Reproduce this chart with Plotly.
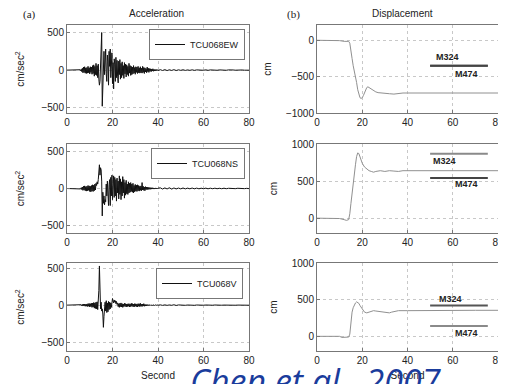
import numpy as np
import plotly.graph_objects as go

# ---------------- data ----------------
acc_t_start = 5.0   # dense samples every 0.25 s from 5 to 40 s
acc_ew = [0, 2, -3, 5, -8, 12, -20, 25,
          -35, 40, -30, 45, -40, 30, -45, 35,
          -40, 50, -35, 30, -50, 45, -30, 40,
          -55, 60, -45, 70, -80, 50, -60, 90,
          -70, 60, -100, 80, -120, -200, -150, 60,
          150, 500, -480, -100, 150, 250, -60, 180,
          280, -50, -150, 200, 120, -200, 250, 50,
          280, -100, 150, 230, -180, 100, -250, 150,
          80, -150, 170, -100, 130, -80, -170, 120,
          -60, 140, -120, 90, -100, 110, -70, 60,
          -110, 100, -50, 80, -90, 70, -60, 50,
          -80, 90, -40, 60, -70, 50, -60, 40,
          -50, 60, -40, 35, -55, 45, -30, 40,
          -45, 50, -35, 30, -40, 45, -35, 25,
          -40, 50, -30, 35, -45, 30, -25, 20,
          -35, 40, -20, 25, -30, 20, -15, 18,
          -20, 15, -12, 18, -15, 10, -12, 8,
          -10, 8, -8, 6, -5]
acc_ns = [0, 2, -3, 4, -6, 10, -15, 20,
          -25, 30, -20, 35, -30, 25, -35, 30,
          -30, 40, -25, 35, -40, 30, -45, 40,
          -35, 50, -40, 45, -30, 60, -20, 70,
          40, 90, 60, 120, 200, 320, 180, 280,
          250, 100, -370, -50, -200, -100, -220, -150,
          -180, 60, -100, 100, -160, -230, 50, 120,
          -230, 150, -100, 180, -150, 80, 170, -120,
          150, -100, 120, -170, 140, -60, 100, -140,
          170, -80, 130, -150, 90, -100, 160, -60,
          120, -130, 80, -90, 110, -70, 60, -80,
          90, -60, 70, -50, 80, -40, 60, -50,
          70, -60, 40, -45, 55, -35, 45, -40,
          50, -30, 40, -35, 30, -25, 35, -30,
          80, -20, 30, -25, 20, -30, 25, -15,
          20, -15, 18, -12, 15, -10, 12, -10,
          10, -8, 10, -6, 8, -8, 6, -5,
          8, -6, 5, -5, 4]
acc_v = [0, 1, -2, 3, -4, 6, -8, 10,
         -12, 15, -10, 14, -15, 12, -14, 16,
         -18, 20, -15, 22, -25, 20, -18, 25,
         -30, 28, -25, 35, -40, 30, -45, 40,
         -50, 45, -60, 80, 200, 530, 150, -50,
         40, -80, -50, -120, -300, -150, -60, 40,
         -80, 60, -100, 30, -90, 50, -60, 40,
         -50, 30, -30, 40, 90, 60, 30, 70,
         40, 60, 20, 50, 10, 30, -20, 20,
         -30, 25, -20, 30, -25, 20, -30, 15,
         -20, 25, -15, 20, -25, 15, -20, 18,
         -15, 20, -25, 15, -20, 25, -15, 20,
         -20, 15, -25, 20, -15, 18, -20, 15,
         -25, 20, -15, 18, -20, 25, -15, 12,
         -18, 15, -12, 20, -15, 10, -12, 8,
         -10, 8, -6, 5, -8, 6, -5, 4,
         -4, 3, -5, 4, -3, 3, -4, 3,
         -3, 2, -2, 2, -1]
# sparse tail, one sample per second from 41 to 80 s
tail_ew = [6, -5, 7, -6, 5, -4, 6, -5, 4, -3, 5, -4, 3, -3, 4, -3, 3, -2, 3, -2,
           4, -3, 3, -2, 2, -2, 3, -2, 2, -2, 3, -2, 2, -1, 2, -2, 2, -1, 2, -1]
tail_ns = [9, -7, 8, -6, 10, -8, 7, -6, 6, -5, 7, -5, 5, -4, 6, -4, 5, -4, 4, -3,
           5, -4, 4, -3, 4, -3, 3, -3, 4, -3, 3, -2, 3, -2, 3, -2, 2, -2, 2, -2]
tail_v = [4, -3, 4, -3, 3, -2, 5, -4, 3, -2, 3, -2, 2, -2, 3, -2, 2, -2, 2, -1,
          2, -2, 2, -1, 2, -1, 2, -1, 1, -1, 2, -1, 1, -1, 1, -1, 1, -1, 1, -1]

disp_ew_t = [0, 5, 10, 12, 13, 14, 14.5, 15, 15.5, 16, 16.5, 17, 17.5, 18, 18.5, 19, 19.5,
             20, 20.5, 21, 21.5, 22, 22.5, 23, 24, 25, 26, 27, 28, 30, 32, 34, 36, 38, 40,
             50, 60, 70, 80]
disp_ew = [0, 0, -5, -15, -20, -15, -40, -120, -250, -350, -420, -500, -580, -680, -760, -790,
           -800, -790, -760, -720, -680, -650, -640, -650, -680, -700, -710, -720, -725, -725,
           -735, -740, -730, -725, -725, -725, -725, -725, -725]
disp_ns_t = [0, 5, 10, 12, 13, 14, 14.5, 15, 15.5, 16, 16.5, 17, 17.5, 18, 18.5, 19, 19.5, 20,
             21, 22, 23, 24, 25, 26, 28, 30, 32, 34, 36, 38, 40, 50, 60, 70, 80]
disp_ns = [0, 0, -5, -20, -30, -20, 60, 200, 350, 480, 600, 720, 830, 880, 870, 830, 780, 740,
           690, 660, 640, 630, 620, 630, 640, 630, 640, 635, 630, 640, 640, 640, 645, 640, 640]
disp_v_t = [0, 5, 10, 11, 12, 13, 14, 14.5, 15, 15.5, 16, 16.5, 17, 17.5, 18, 18.5, 19,
            20, 21, 22, 23, 24, 25, 26, 27, 28, 29, 30, 31, 32, 33, 34, 35, 36,
            40, 50, 60, 70, 80]
disp_v = [0, 0, 0, -15, -15, -12, -10, 30, 200, 330, 390, 430, 455, 470, 465, 450, 420,
          370, 330, 320, 330, 345, 350, 345, 340, 345, 335, 325, 320, 320, 330, 340, 345, 350,
          350, 355, 355, 355, 355]

station_names = ["TCU068EW", "TCU068NS", "TCU068V"]
ref_x = [50, 75.5]
m324_y = [-350, 870, 420]
m474_y = [-350, 540, 140]
x_ticks = [0, 20, 40, 60, 80]
acc_ticks = [-500, 0, 500]
disp_ticks = [[-1000, -500, 0], [0, 500, 1000], [0, 500, 1000]]

# ---------------- build ----------------
dense_t = list(acc_t_start + 0.25 * np.arange(len(acc_ew)))
tail_t = list(np.arange(41, 81, 1.0))
acc_series = [acc_ew, acc_ns, acc_v]
tails = [tail_ew, tail_ns, tail_v]
disp_series = [(disp_ew_t, disp_ew), (disp_ns_t, disp_ns), (disp_v_t, disp_v)]

FONT = "Liberation Sans, Arial, sans-serif"
fig = go.Figure()

OFF = 8                 # the page body margin shifts the figure by 8 px
W, H = 506 - OFF, 384 - OFF


def px(v):
    return (v - OFF) / W


def py(v):
    return 1 - (v - OFF) / H


xl = [px(67), px(249)]
xr = [px(317), px(498)]
rows_px = [(25, 113), (144, 233), (263, 351)]
ydoms = [[py(b), py(t)] for t, b in rows_px]
acc_ranges = [[-570, 600], [-600, 600], [-620, 570]]
disp_ranges = [[-1000, 210], [-200, 1000], [-200, 1000]]
legend_pos = [(px(245), py(29)), (px(245), py(148)), (px(243), py(268))]

axis_common = dict(showline=True, linecolor="#777", linewidth=1, mirror=True,
                   showgrid=True, gridcolor="#c8c8c8", griddash="dot", gridwidth=1,
                   zeroline=False, ticks="inside", ticklen=3, tickcolor="#777",
                   tickfont=dict(family=FONT, size=10, color="#222"))

for i in range(3):
    ax_l = 2 * i + 1
    ax_r = 2 * i + 2
    xa_l = "x" if ax_l == 1 else f"x{ax_l}"
    ya_l = "y" if ax_l == 1 else f"y{ax_l}"
    xa_r, ya_r = f"x{ax_r}", f"y{ax_r}"
    lg = "legend" if i == 0 else f"legend{i + 1}"

    t_all = [0.0] + dense_t + tail_t
    v_all = [0] + acc_series[i] + tails[i]
    fig.add_trace(go.Scatter(x=t_all, y=v_all, mode="lines", name=station_names[i],
                             line=dict(color="#111", width=1), xaxis=xa_l, yaxis=ya_l,
                             legend=lg, showlegend=True))
    dt, dv = disp_series[i]
    fig.add_trace(go.Scatter(x=dt, y=dv, mode="lines", line=dict(color="#909090", width=1),
                             xaxis=xa_r, yaxis=ya_r, showlegend=False))
    c324 = "#555" if i != 1 else "#8a8a8a"
    c474 = "#8a8a8a" if i == 2 else "#444"
    fig.add_trace(go.Scatter(x=ref_x, y=[m324_y[i]] * 2, mode="lines",
                             line=dict(color=c324, width=2), xaxis=xa_r, yaxis=ya_r,
                             showlegend=False))
    fig.add_trace(go.Scatter(x=ref_x, y=[m474_y[i]] * 2, mode="lines",
                             line=dict(color=c474, width=2), xaxis=xa_r, yaxis=ya_r,
                             showlegend=False))

    key = "" if ax_l == 1 else str(ax_l)
    fig.update_layout(**{
        f"xaxis{key}": dict(domain=xl, range=[0, 80], tickvals=x_ticks, anchor=ya_l,
                            title=dict(text="Second" if i == 2 else "",
                                       font=dict(family=FONT, size=10, color="#222"),
                                       standoff=6),
                            automargin=False, **axis_common),
        f"yaxis{key}": dict(domain=ydoms[i], range=acc_ranges[i], tickvals=acc_ticks,
                            anchor=xa_l,
                            title=dict(text="cm/sec<sup>2</sup>",
                                       font=dict(family=FONT, size=10, color="#222"),
                                       standoff=14),
                            automargin=False, **axis_common),
        f"xaxis{ax_r}": dict(domain=xr, range=[0, 80], tickvals=x_ticks, anchor=ya_r,
                             title=dict(text="Second" if i == 2 else "",
                                        font=dict(family=FONT, size=10, color="#222"),
                                        standoff=6),
                             automargin=False, **axis_common),
        f"yaxis{ax_r}": dict(domain=ydoms[i], range=disp_ranges[i], tickvals=disp_ticks[i],
                             anchor=xa_r,
                             title=dict(text="cm", font=dict(family=FONT, size=10, color="#222"),
                                        standoff=12),
                             automargin=False, **axis_common),
        lg: dict(x=legend_pos[i][0], y=legend_pos[i][1], xanchor="right", yanchor="top",
                 bgcolor="white", bordercolor="#777", borderwidth=1,
                 font=dict(family=FONT, size=9, color="#222"),
                 tracegroupgap=0, itemwidth=30),
    })

# text labels
label_pos = [((57.5, -230), (66, -460)), ((56.5, 767), (66, 466)), ((59, 514), (66, 40))]
for i in range(3):
    xa_r, ya_r = f"x{2 * i + 2}", f"y{2 * i + 2}"
    for txt, (lx, ly) in zip(["M324", "M474"], label_pos[i]):
        fig.add_annotation(x=lx, y=ly, xref=xa_r, yref=ya_r, text=f"<b>{txt}</b>",
                           xanchor="center", yanchor="middle",
                           showarrow=False, font=dict(family=FONT, size=9, color="#222"))

for txt, x in [("Acceleration", px(156)), ("Displacement", px(402))]:
    fig.add_annotation(x=x, y=py(14), xref="paper", yref="paper", text=txt,
                       xanchor="center", yanchor="middle",
                       showarrow=False, font=dict(family=FONT, size=10, color="#222"))
for txt, x in [("(a)", px(29)), ("(b)", px(293))]:
    fig.add_annotation(x=x, y=py(15), xref="paper", yref="paper", text=txt,
                       xanchor="center", yanchor="middle",
                       showarrow=False,
                       font=dict(family="Liberation Serif, Times New Roman, serif", size=11,
                                 color="#222"))

fig.add_annotation(x=px(188), y=py(356), xref="paper", yref="paper",
                   xanchor="left", yanchor="top", text="<i>Chen et al., 2007</i>",
                   showarrow=False,
                   font=dict(family="Open Sans, Liberation Sans, sans-serif", size=34,
                             color="#1a3c9c"))

fig.update_layout(width=W, height=H, margin=dict(l=0, r=0, t=0, b=0, autoexpand=False),
                  paper_bgcolor="white", plot_bgcolor="white", showlegend=True)

fig.write_html("out.html")
